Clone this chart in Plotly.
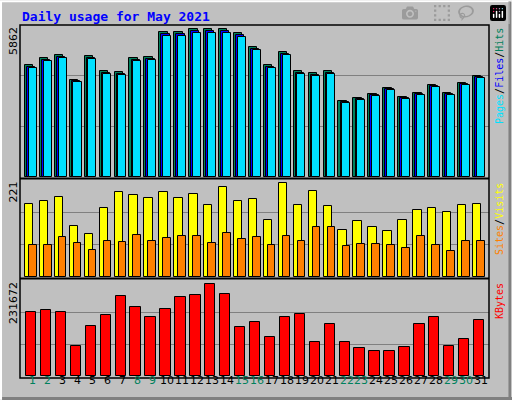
import plotly.graph_objects as go

days = list(range(1, 32))
hits = [4320,4590,4705,3741,4667,4088,4050,4590,4628,5592,5592,5708,5708,5708,5554,5014,
        4320,4821,4088,4011,4088,2931,3047,3201,3433,3086,3240,3548,3240,3626,3896]
files = [round(h*0.985) for h in hits]
pages = [round(f*0.99) for f in files]
visits = [166,174,183,117,98,158,193,186,179,193,181,188,165,206,174,177,
          131,214,163,196,161,108,127,115,104,129,152,157,147,163,166]
sites = [73,73,91,78,61,82,80,96,82,89,94,94,78,101,87,91,
         74,94,83,113,113,71,76,76,74,67,94,74,60,81,83]
kbytes = [153700,158500,153700,71700,119900,146500,192300,165800,141600,160900,189900,194700,221300,197100,117500,129600,
          94100,142400,149600,82000,125500,82000,67600,60300,60300,70000,125500,142400,72400,89300,135100]
weekend = [1,2,8,9,15,16,22,23,29,30]
max_hits, max_visits, max_kb = 5862, 221, 231672
title = "Daily usage for May 2021"

W, H = 512, 400
def py(p): return 1 - p / H
fig = go.Figure()
ln = dict(color="black", width=1)
def bar(x, y, color, off, w, ax):
    fig.add_trace(go.Bar(x=x, y=y, marker=dict(color=color, line=ln), offset=off, width=w,
                         xaxis="x"+ax, yaxis="y"+ax, showlegend=False, hoverinfo="skip"))
bar(days, hits, "#00805c", -0.54, 0.56, "")
bar(days, files, "#0000ff", -0.40, 0.55, "")
bar(days, pages, "#00e0ff", -0.29, 0.54, "")
bar(days, visits, "#ffff00", -0.54, 0.56, "2")
bar(days, sites, "#ff8000", -0.27, 0.51, "2")
bar(days, kbytes, "#ff0000", -0.47, 0.69, "3")

xr = [0.13, 31.54]
xd = [20/W, 489/W]
panels = [("", 25, 177, max_hits), ("2", 180, 277, max_visits), ("3", 280, 376, max_kb)]
lay = dict(width=W, height=H, margin=dict(l=0, r=0, t=0, b=0), paper_bgcolor="#c0c0c0",
           plot_bgcolor="#c0c0c0", barmode="overlay", bargap=0)
for ax, top, bot, mx in panels:
    lay["xaxis"+ax] = dict(domain=xd, range=xr, showgrid=False, showticklabels=False, zeroline=False,
                          anchor="y"+ax, fixedrange=True)
    lay["yaxis"+ax] = dict(domain=[py(bot), py(top)], range=[0, mx], tickvals=[mx/3, 2*mx/3],
                          showticklabels=False, gridcolor="#808080", gridwidth=1, zeroline=False,
                          anchor="x"+ax, fixedrange=True)
fig.update_layout(**lay)

shapes = [
    dict(type="rect", xref="paper", yref="paper", x0=0.002, x1=0.998, y0=0.003, y1=0.997,
         line=dict(color="#ffffff", width=2)),
    dict(type="line", xref="paper", yref="paper", x0=0.004, x1=1, y0=0.004, y1=0.004, line=dict(color="#808080", width=3)),
    dict(type="line", xref="paper", yref="paper", x0=0.996, x1=0.996, y0=0, y1=0.996, line=dict(color="#808080", width=3)),
    dict(type="rect", xref="paper", yref="paper", x0=xd[0], x1=xd[1], y0=py(378), y1=py(25),
         line=dict(color="black", width=1.5)),
]
for sep in [178.5, 278.5]:
    shapes.append(dict(type="line", xref="paper", yref="paper", x0=xd[0], x1=xd[1], y0=py(sep), y1=py(sep),
                       line=dict(color="black", width=2)))
fig.update_layout(shapes=shapes)

ann = [dict(text="<b>"+title+"</b>", x=20/W, y=py(7), xref="paper", yref="paper", xanchor="left", yanchor="top",
            showarrow=False, font=dict(family="DejaVu Sans Mono", size=13, color="#0000ff"))]
for ax, top, bot, mx in panels:
    ann.append(dict(text=str(mx), x=13/W, y=py(top), xref="paper", yref="paper", xanchor="center", yanchor="top",
                    textangle=-90, showarrow=False, font=dict(family="DejaVu Sans", size=11, color="black")))
def sp(t, c): return "<span style='color:%s'>%s</span>" % (c, t)
sl = "<span style='color:black'>/</span>"
rlabels = [(sp("Pages", "#00e0ff")+sl+sp("Files", "#0000ff")+sl+sp("Hits", "#00805c"), 25),
           (sp("Sites", "#ff8000")+sl+sp("Visits", "#ffff00"), 180),
           (sp("KBytes", "#ff0000"), 280)]
for t, top in rlabels:
    ann.append(dict(text=t, x=499/W, y=py(top + 2), xref="paper", yref="paper", xanchor="center", yanchor="top",
                    textangle=-90, showarrow=False, borderpad=0,
                    font=dict(family="DejaVu Sans Mono", size=10)))
for d in days:
    ann.append(dict(text=str(d), x=d, y=py(389), xref="x3", yref="paper", showarrow=False,
                    font=dict(family="DejaVu Sans", size=11, color="#00805c" if d in weekend else "black")))
fig.update_layout(annotations=ann)
fig.write_html("out.html", post_script="document.body.style.margin='0';document.body.style.overflow='hidden';")
